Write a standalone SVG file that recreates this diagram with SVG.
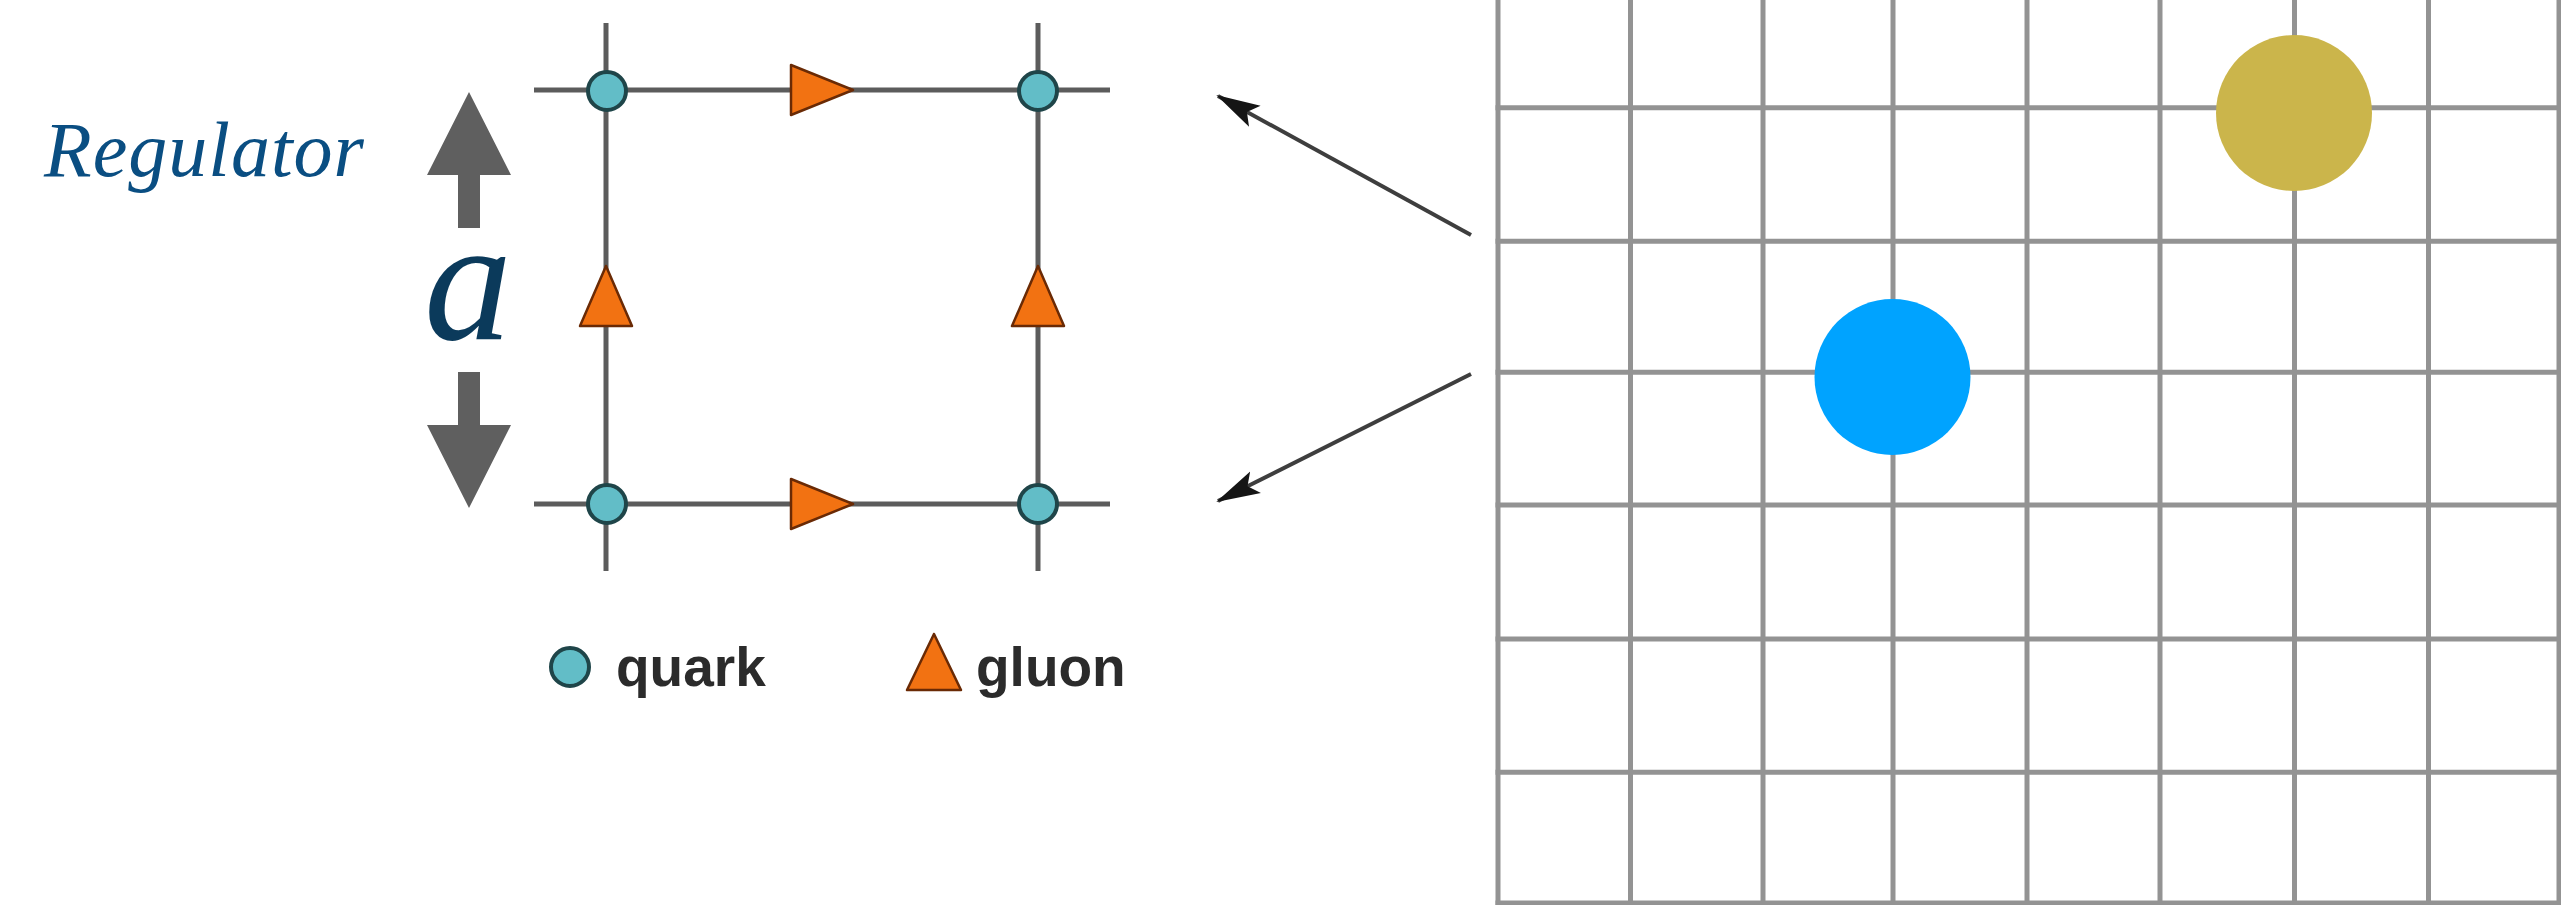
<svg xmlns="http://www.w3.org/2000/svg" width="2561" height="905" viewBox="0 0 2561 905">
  <style>
    .grid line { stroke: #939393; stroke-width: 5; }
    .lat { stroke: #5c5c5c; stroke-width: 5; fill: none; }
    .quark { fill: #62bdc7; stroke: #1f4549; stroke-width: 4; }
    .gluon { fill: #f27212; stroke: #6a2a05; stroke-width: 2.5; stroke-linejoin: round; }
    .legend { font-family: "Liberation Sans", Arial, sans-serif; font-weight: bold; font-size: 55px; fill: #2b2b2b; }
    .conn { stroke: #3e3e3e; stroke-width: 4; fill: none; marker-end: url(#head); }
    .bigarrow { fill: #5f5f5f; }
  </style>
  <defs>
    <marker id="head" viewBox="0 0 44 26" markerWidth="44" markerHeight="26" refX="42" refY="13" orient="auto" markerUnits="userSpaceOnUse">
      <path d="M0,1 L44,13 L0,25 L9,13 z" fill="#151515"/>
    </marker>
  </defs>
  <rect width="2561" height="905" fill="#ffffff"/>

  <g id="regulator-label">
    <text x="44" y="176" font-family="'Liberation Serif', 'Times New Roman', serif" font-style="italic" font-size="78" letter-spacing="1" fill="#0a4e82">Regulator</text>
  </g>

  <g id="spacing-a">
    <path class="bigarrow" d="M469,92 L511,175 L480,175 L480,228 L458,228 L458,175 L427,175 Z"/>
    <path class="bigarrow" d="M469,508 L511,425 L480,425 L480,372 L458,372 L458,425 L427,425 Z"/>
    <text x="424" y="339" font-family="'Liberation Serif', 'Times New Roman', serif" font-style="italic" font-size="176" fill="#0b3a5b">a</text>
  </g>

  <g id="lattice-cell">
    <line class="lat" x1="534" y1="90" x2="1110" y2="90"/>
    <line class="lat" x1="534" y1="504" x2="1110" y2="504"/>
    <line class="lat" x1="606" y1="23" x2="606" y2="571"/>
    <line class="lat" x1="1038" y1="23" x2="1038" y2="571"/>
    <polygon class="gluon" points="791,65 791,115 853,90"/>
    <polygon class="gluon" points="791,479 791,529 853,504"/>
    <polygon class="gluon" points="606,266 580,326 632,326"/>
    <polygon class="gluon" points="1038,266 1012,326 1064,326"/>
    <circle class="quark" cx="607" cy="91" r="19"/>
    <circle class="quark" cx="1038" cy="91" r="19"/>
    <circle class="quark" cx="607" cy="504" r="19"/>
    <circle class="quark" cx="1038" cy="504" r="19"/>
  </g>

  <g id="legend-quark">
    <circle class="quark" cx="570" cy="667" r="19"/>
    <text class="legend" x="616" y="686">quark</text>
  </g>
  <g id="legend-gluon">
    <polygon class="gluon" points="934,634 907,690 961,690"/>
    <text class="legend" x="976" y="686">gluon</text>
  </g>

  <g id="grid" class="grid">
    <line x1="1498" y1="0" x2="1498" y2="905"/>
    <line x1="1630.5" y1="0" x2="1630.5" y2="905"/>
    <line x1="1763" y1="0" x2="1763" y2="905"/>
    <line x1="1893" y1="0" x2="1893" y2="905"/>
    <line x1="2027" y1="0" x2="2027" y2="905"/>
    <line x1="2160" y1="0" x2="2160" y2="905"/>
    <line x1="2294.5" y1="0" x2="2294.5" y2="905"/>
    <line x1="2428.5" y1="0" x2="2428.5" y2="905"/>
    <line x1="2559" y1="0" x2="2559" y2="905"/>
    <line x1="1495.5" y1="107.7" x2="2561" y2="107.7"/>
    <line x1="1495.5" y1="241.3" x2="2561" y2="241.3"/>
    <line x1="1495.5" y1="372.3" x2="2561" y2="372.3"/>
    <line x1="1495.5" y1="505" x2="2561" y2="505"/>
    <line x1="1495.5" y1="639" x2="2561" y2="639"/>
    <line x1="1495.5" y1="772.3" x2="2561" y2="772.3"/>
    <line x1="1495.5" y1="903" x2="2561" y2="903"/>
  </g>

  <g id="particle-blue">
    <circle cx="1892.5" cy="377" r="78" fill="#00a3ff"/>
  </g>
  <g id="particle-gold">
    <circle cx="2294" cy="113" r="78" fill="#cbb54b"/>
  </g>

  <g id="connectors">
    <line class="conn" x1="1471" y1="235" x2="1218" y2="96"/>
    <line class="conn" x1="1471" y1="374" x2="1218" y2="501"/>
  </g>
</svg>
